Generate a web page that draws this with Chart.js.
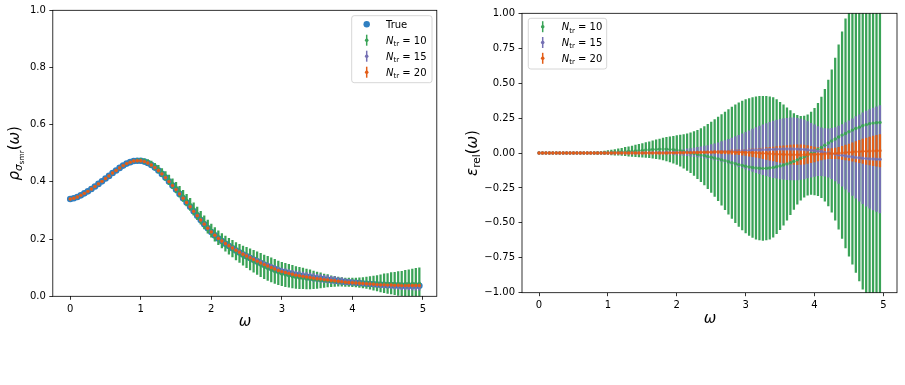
<!DOCTYPE html>
<html><head><meta charset="utf-8">
<script src="https://cdn.jsdelivr.net/npm/chart.js@4"></script>
<style>
html,body{margin:0;padding:0;background:#fff;width:905px;height:385px;overflow:hidden}
#l{position:absolute;left:0;top:0;width:450px;height:340px}
#r{position:absolute;left:450px;top:0;width:455px;height:340px}
</style></head><body>
<div id="l"><canvas id="cl"></canvas></div>
<div id="r"><canvas id="cr"></canvas></div>
<script>
const omega = [
 0.00,0.05,0.10,0.15,0.20,0.25,0.30,0.35,0.40,0.45,
 0.50,0.55,0.60,0.65,0.70,0.75,0.80,0.85,0.90,0.95,
 1.00,1.05,1.10,1.15,1.20,1.25,1.30,1.35,1.40,1.45,
 1.50,1.55,1.60,1.65,1.70,1.75,1.80,1.85,1.90,1.95,
 2.00,2.05,2.10,2.15,2.20,2.25,2.30,2.35,2.40,2.45,
 2.50,2.55,2.60,2.65,2.70,2.75,2.80,2.85,2.90,2.95,
 3.00,3.05,3.10,3.15,3.20,3.25,3.30,3.35,3.40,3.45,
 3.50,3.55,3.60,3.65,3.70,3.75,3.80,3.85,3.90,3.95,
 4.00,4.05,4.10,4.15,4.20,4.25,4.30,4.35,4.40,4.45,
 4.50,4.55,4.60,4.65,4.70,4.75,4.80,4.85,4.90,4.95];
const rhoTrue = [
 0.340,0.343,0.347,0.353,0.360,0.367,0.375,0.384,0.393,0.402,
 0.412,0.421,0.431,0.440,0.449,0.457,0.464,0.469,0.473,0.474,
 0.474,0.471,0.466,0.459,0.450,0.440,0.428,0.415,0.401,0.387,
 0.373,0.358,0.343,0.328,0.313,0.297,0.282,0.267,0.252,0.238,
 0.225,0.213,0.202,0.193,0.184,0.176,0.168,0.160,0.153,0.146,
 0.140,0.134,0.128,0.122,0.116,0.110,0.105,0.100,0.095,0.090,
 0.086,0.083,0.080,0.077,0.074,0.072,0.070,0.068,0.066,0.064,
 0.062,0.061,0.059,0.058,0.056,0.055,0.053,0.052,0.050,0.049,
 0.048,0.047,0.046,0.045,0.044,0.043,0.042,0.041,0.040,0.040,
 0.039,0.039,0.038,0.038,0.037,0.037,0.037,0.037,0.037,0.037];
const relErr10 = [
 0,0,0,0,0,0,0,0,0,0,
 0,0,0,0,0,0,0,0.000,0.001,0.002,
 0.003,0.004,0.005,0.007,0.008,0.010,0.011,0.013,0.015,0.017,
 0.019,0.021,0.023,0.025,0.027,0.028,0.028,0.028,0.026,0.024,
 0.021,0.017,0.012,0.007,0.002,-0.004,-0.010,-0.015,-0.019,-0.025,
 -0.030,-0.036,-0.042,-0.049,-0.056,-0.063,-0.070,-0.077,-0.083,-0.089,
 -0.095,-0.100,-0.104,-0.107,-0.109,-0.110,-0.109,-0.107,-0.103,-0.098,
 -0.093,-0.086,-0.078,-0.069,-0.060,-0.049,-0.038,-0.026,-0.014,-0.002,
 0.010,0.025,0.040,0.056,0.072,0.086,0.100,0.114,0.128,0.140,
 0.152,0.164,0.175,0.185,0.195,0.203,0.210,0.214,0.217,0.218];
const relStd10 = [
 0.000,0.000,0.000,0.000,0.000,0.000,0.001,0.001,0.001,0.001,
 0.002,0.002,0.003,0.003,0.004,0.005,0.006,0.008,0.010,0.012,
 0.014,0.017,0.020,0.023,0.026,0.030,0.033,0.037,0.041,0.045,
 0.049,0.053,0.057,0.062,0.067,0.072,0.078,0.084,0.090,0.096,
 0.103,0.111,0.120,0.131,0.143,0.157,0.173,0.190,0.209,0.230,
 0.252,0.275,0.299,0.324,0.349,0.374,0.398,0.421,0.442,0.461,
 0.477,0.490,0.501,0.509,0.514,0.516,0.514,0.509,0.500,0.480,
 0.456,0.430,0.402,0.372,0.343,0.318,0.300,0.290,0.288,0.295,
 0.310,0.330,0.360,0.400,0.450,0.510,0.580,0.660,0.740,0.820,
 0.890,0.960,1.030,1.100,1.170,1.240,1.300,1.360,1.420,1.470];
const relErr15 = [
 0,0,0,0,0,0,0,0,0,0,
 0,0,0,0,0,0,0,0,0,0,
 0,0,0,0,0,0,0,0,0,0,
 0.000,0.001,0.001,0.001,0.002,0.002,0.002,0.003,0.003,0.003,
 0.004,0.004,0.004,0.005,0.005,0.005,0.006,0.006,0.007,0.007,
 0.008,0.008,0.009,0.010,0.011,0.012,0.013,0.014,0.015,0.016,
 0.017,0.018,0.020,0.021,0.022,0.023,0.024,0.025,0.026,0.027,
 0.028,0.029,0.029,0.029,0.029,0.028,0.027,0.025,0.023,0.020,
 0.017,0.013,0.009,0.004,0.000,-0.004,-0.009,-0.013,-0.017,-0.021,
 -0.025,-0.029,-0.032,-0.035,-0.038,-0.040,-0.042,-0.043,-0.044,-0.045];
const relStd15 = [
 0,0,0,0,0,0,0,0,0,0,
 0,0,0,0,0,0,0,0,0,0,
 0.000,0.001,0.001,0.001,0.002,0.002,0.003,0.003,0.004,0.004,
 0.005,0.006,0.006,0.007,0.008,0.009,0.010,0.012,0.013,0.015,
 0.017,0.019,0.021,0.024,0.027,0.030,0.034,0.038,0.042,0.047,
 0.052,0.058,0.064,0.071,0.078,0.086,0.094,0.103,0.112,0.121,
 0.131,0.141,0.151,0.161,0.170,0.179,0.187,0.195,0.202,0.208,
 0.213,0.217,0.220,0.222,0.222,0.220,0.216,0.210,0.202,0.193,
 0.184,0.176,0.171,0.170,0.173,0.180,0.191,0.205,0.221,0.238,
 0.256,0.274,0.292,0.309,0.325,0.340,0.353,0.365,0.375,0.384];
const relErr20 = [
 0,0,0,0,0,0,0,0,0,0,
 0,0,0,0,0,0,0,0,0,0,
 0,0,0,0,0,0,0,0,0,0,
 0,0,0,0,0,0,0,0.000,0.001,0.001,
 0.001,0.002,0.002,0.003,0.003,0.004,0.004,0.005,0.005,0.006,
 0.006,0.007,0.007,0.007,0.007,0.007,0.007,0.006,0.006,0.005,
 0.004,0.003,0.002,0.001,-0.001,-0.002,-0.004,-0.005,-0.007,-0.008,
 -0.009,-0.010,-0.011,-0.012,-0.012,-0.012,-0.012,-0.012,-0.011,-0.011,
 -0.010,-0.009,-0.008,-0.007,-0.005,-0.004,-0.002,-0.001,0.001,0.003,
 0.005,0.007,0.009,0.010,0.012,0.013,0.014,0.015,0.016,0.016];
const relStd20 = [
 0,0,0,0,0,0,0,0,0,0,
 0,0,0,0,0,0,0,0,0,0,
 0,0,0,0,0,0,0,0,0,0,
 0.000,0.001,0.001,0.001,0.001,0.001,0.002,0.002,0.002,0.002,
 0.003,0.003,0.003,0.004,0.004,0.005,0.005,0.006,0.007,0.007,
 0.008,0.009,0.010,0.011,0.012,0.013,0.015,0.016,0.018,0.020,
 0.022,0.025,0.028,0.031,0.034,0.038,0.042,0.046,0.050,0.054,
 0.058,0.062,0.065,0.068,0.070,0.071,0.070,0.068,0.064,0.059,
 0.053,0.047,0.042,0.038,0.036,0.036,0.038,0.042,0.047,0.053,
 0.059,0.066,0.073,0.080,0.087,0.094,0.100,0.106,0.111,0.115];
const xTicks = [0,1,2,3,4,5];
const yTicksLeft = [0,0.2,0.4,0.6,0.8,1.0];
const yTicksRight = [-1,-0.75,-0.5,-0.25,0,0.25,0.5,0.75,1];
const seriesNames = ['10','15','20'];

const COL = {true:'#2f7fc1', g:'#3aa357', p:'#7570b3', o:'#e35d17'};
const FONT = '"DejaVu Sans", sans-serif';

function runs(ctx, parts, x, y, center){
  let w=0;
  parts.forEach(p=>{ctx.font=(p.it?'italic ':'')+p.s+'px '+FONT; p.w=ctx.measureText(p.t).width; w+=p.w;});
  let cx = center ? x-w/2 : x;
  parts.forEach(p=>{ctx.font=(p.it?'italic ':'')+p.s+'px '+FONT; ctx.fillText(p.t,cx,y+(p.dy||0)); cx+=p.w;});
}
function nLabel(n){return [{t:'N',s:10,it:true},{t:'tr',s:7,dy:2.2},{t:' = '+n,s:10}];}

function legendPlugin(box, rows){
  return {id:'lg', afterDraw(c){
    const ctx=c.ctx; ctx.save();
    const r=2.5,{x,y,w,h}=box;
    ctx.beginPath(); ctx.moveTo(x+r,y); ctx.arcTo(x+w,y,x+w,y+h,r); ctx.arcTo(x+w,y+h,x,y+h,r);
    ctx.arcTo(x,y+h,x,y,r); ctx.arcTo(x,y,x+w,y,r); ctx.closePath();
    ctx.fillStyle='rgba(255,255,255,0.8)'; ctx.fill(); ctx.strokeStyle='#cccccc'; ctx.lineWidth=0.8; ctx.stroke();
    rows.forEach(rw=>{
      if(rw.kind==='dot'){ctx.fillStyle=rw.c; ctx.beginPath(); ctx.arc(rw.ix,rw.y,3.2,0,Math.PI*2); ctx.fill();}
      else{ctx.strokeStyle=rw.c; ctx.lineWidth=1.5; ctx.beginPath(); ctx.moveTo(rw.ix,rw.y-5.5); ctx.lineTo(rw.ix,rw.y+5.5); ctx.stroke();
        ctx.fillStyle=rw.c; ctx.beginPath(); ctx.arc(rw.ix,rw.y,1.8,0,Math.PI*2); ctx.fill();}
      ctx.fillStyle='#000'; ctx.textBaseline='alphabetic';
      runs(ctx, rw.parts, rw.tx, rw.y+3.6, false);
    });
    ctx.restore();
  }};
}
function labelPlugin(ylab, yx, yy, xx, xy){
  return {id:'lab', afterDraw(c){
    const ctx=c.ctx; ctx.save(); ctx.fillStyle='#000'; ctx.textBaseline='alphabetic';
    runs(ctx,[{t:'ω',s:15,it:true}],xx,xy,true);
    ctx.translate(yx,yy); ctx.rotate(-Math.PI/2);
    runs(ctx,ylab,0,0,true);
    ctx.restore();
  }};
}
const frame = {id:'frame', afterDatasetsDraw(c){const a=c.chartArea,ctx=c.ctx;ctx.save();ctx.strokeStyle='#000';ctx.lineWidth=0.8;
  ctx.strokeRect(a.left,a.top,a.right-a.left,a.bottom-a.top);ctx.restore();}};

function bars(mean,err,label,color,order){
  return {type:'bar',label,order,grouped:false,barThickness:1.6,backgroundColor:color,borderWidth:0,
    data:omega.map((w,i)=>({x:w,y:[mean[i]-err[i],mean[i]+err[i]]}))};
}
function pts(vals,label,color,order,r){
  return {type:'scatter',label,order,showLine:false,pointRadius:r,pointBorderWidth:0,pointBackgroundColor:color,
    data:omega.map((w,i)=>({x:w,y:vals[i]}))};
}
function axes(yTicks,ymin,ymax,fmt,yw,xh){
  const grid={display:true,offset:false,drawOnChartArea:false,drawTicks:true,tickLength:3.5,tickWidth:0.8,tickColor:'#000'};
  const ticks={color:'#000',font:{family:FONT,size:10},padding:3.5,maxRotation:0,autoSkip:false};
  return {
    x:{type:'linear',min:-0.2475,max:5.1975,offset:false,grid,border:{display:false},
      ticks:Object.assign({callback:v=>String(v)},ticks),
      afterBuildTicks:s=>{s.ticks=xTicks.map(v=>({value:v}));}, afterFit:s=>{s.height=xh;}},
    y:{type:'linear',min:ymin,max:ymax,grid,border:{display:false},
      ticks:Object.assign({callback:fmt},ticks),
      afterBuildTicks:s=>{s.ticks=yTicks.map(v=>({value:v}));}, afterFit:s=>{s.width=yw;}}
  };
}
const baseOpts = {responsive:true,maintainAspectRatio:false,animation:false,devicePixelRatio:1,events:[],
  plugins:{legend:{display:false},tooltip:{enabled:false}}};

// Left: spectral density; right: relative error. Markers drawn above all error bars (as matplotlib does).
const rel=[relErr10,relErr15,relErr20], sd=[relStd10,relStd15,relStd20], cols=[COL.g,COL.p,COL.o];
const leftSets=[pts(rhoTrue,'True',COL.true,100,3.3)];
const rightSets=[];
for(let k=0;k<3;k++){
  const m=rhoTrue.map((t,i)=>t*(1+rel[k][i])), e=rhoTrue.map((t,i)=>t*sd[k][i]);
  leftSets.push(bars(m,e,'N'+seriesNames[k],cols[k],90-10*k));
  leftSets.push(pts(m,'N'+seriesNames[k],cols[k],60-10*k,1.7));
  rightSets.push(bars(rel[k],sd[k],'N'+seriesNames[k],cols[k],90-10*k));
  rightSets.push(pts(rel[k],'N'+seriesNames[k],cols[k],60-10*k,1.7));
}
new Chart(document.getElementById('cl'),{type:'bar',data:{datasets:leftSets},
  options:Object.assign({},baseOpts,{layout:{padding:{left:0,right:13.2,top:10.3,bottom:0}},
    scales:axes(yTicksLeft,0,1,v=>v.toFixed(1),52.8,43.7)}),
  plugins:[frame,
    legendPlugin({x:351.7,y:15.7,w:80.3,h:67},[
      {kind:'dot',c:COL.true,ix:366.7,tx:386,y:24.3,parts:[{t:'True',s:10}]},
      {kind:'eb',c:COL.g,ix:366.7,tx:386,y:40.2,parts:nLabel('10')},
      {kind:'eb',c:COL.p,ix:366.7,tx:386,y:56.2,parts:nLabel('15')},
      {kind:'eb',c:COL.o,ix:366.7,tx:386,y:72.2,parts:nLabel('20')}]),
    labelPlugin([{t:'ρ',s:15,it:true},{t:'σ',s:10.5,it:true,dy:3.5},{t:'smr',s:7.4,dy:5.8},{t:'(',s:15},{t:'ω',s:15,it:true},{t:')',s:15}],18.5,153.3,245,326)]
});
new Chart(document.getElementById('cr'),{type:'bar',data:{datasets:rightSets},
  options:Object.assign({},baseOpts,{layout:{padding:{left:0,right:8,top:13.3,bottom:0}},
    scales:axes(yTicksRight,-1,1,v=>(v<0?'\u2212':'')+Math.abs(v).toFixed(2),72,47.3)}),
  plugins:[frame,
    legendPlugin({x:78.3,y:18.3,w:78.4,h:50.7},[
      {kind:'eb',c:COL.g,ix:92.7,tx:111.7,y:26.7,parts:nLabel('10')},
      {kind:'eb',c:COL.p,ix:92.7,tx:111.7,y:42.5,parts:nLabel('15')},
      {kind:'eb',c:COL.o,ix:92.7,tx:111.7,y:58.3,parts:nLabel('20')}]),
    labelPlugin([{t:'ε',s:15,it:true},{t:'rel',s:10.5,dy:3.5},{t:'(',s:15},{t:'ω',s:15,it:true},{t:')',s:15}],26.5,153,260,322.5)]
});
</script>
</body></html>
